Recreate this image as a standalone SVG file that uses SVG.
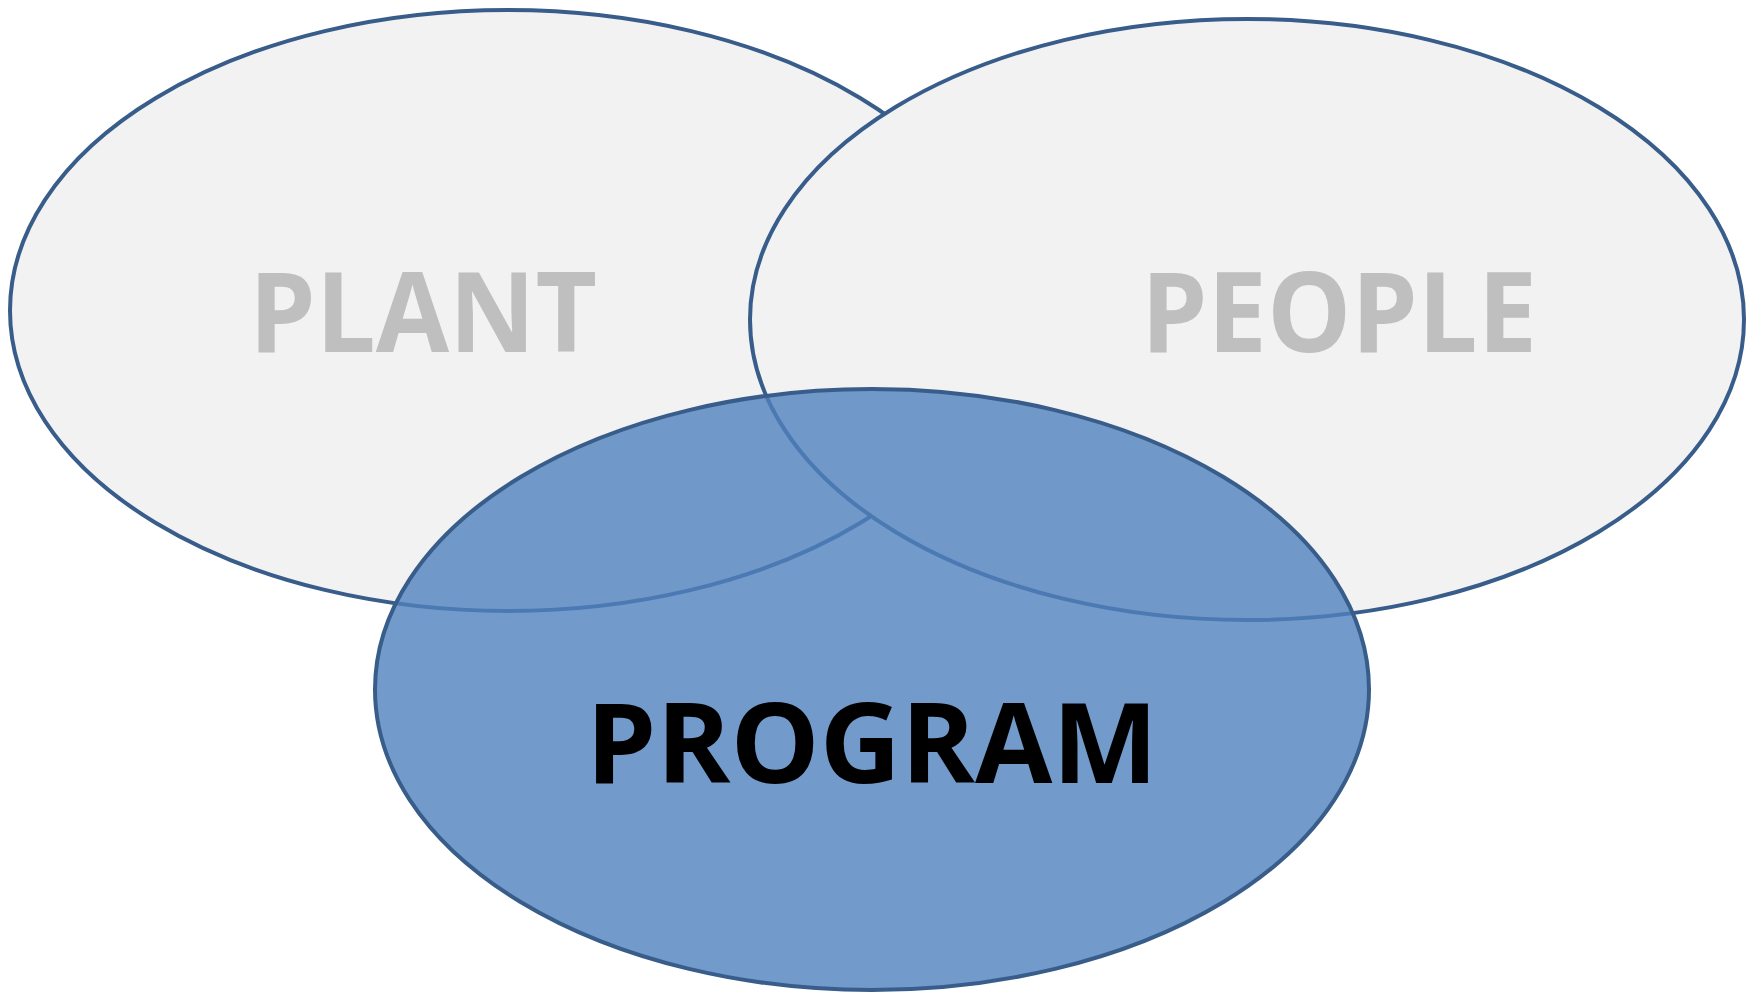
<svg xmlns="http://www.w3.org/2000/svg" width="1758" height="994" viewBox="0 0 1758 994">
<style>
.circ{stroke:#385D8A;stroke-width:4}
.gray{fill:#F2F2F2}
.prog{fill:#4F81BD;fill-opacity:0.8}
.lbl{font-family:"Open Sans","Noto Sans","Liberation Sans",sans-serif;font-weight:bold;font-size:112px}
</style>
<rect width="1758" height="994" fill="#FFFFFF"/>
<g id="plant">
<ellipse class="circ gray" cx="508" cy="310.5" rx="498" ry="300.5"/>
<text class="lbl" x="249" y="352" fill="#BFBFBF" textLength="348" lengthAdjust="spacingAndGlyphs">PLANT</text>
</g>
<g id="people">
<ellipse class="circ gray" cx="1247" cy="319.5" rx="497" ry="300.5"/>
<text class="lbl" x="1141" y="352" fill="#BFBFBF" textLength="396" lengthAdjust="spacingAndGlyphs">PEOPLE</text>
</g>
<g id="program">
<ellipse class="circ prog" cx="872" cy="689.5" rx="497" ry="300.5"/>
<text class="lbl" x="586" y="782.5" fill="#000000" textLength="572" lengthAdjust="spacingAndGlyphs">PROGRAM</text>
</g>
<g id="connectors"/>
</svg>
